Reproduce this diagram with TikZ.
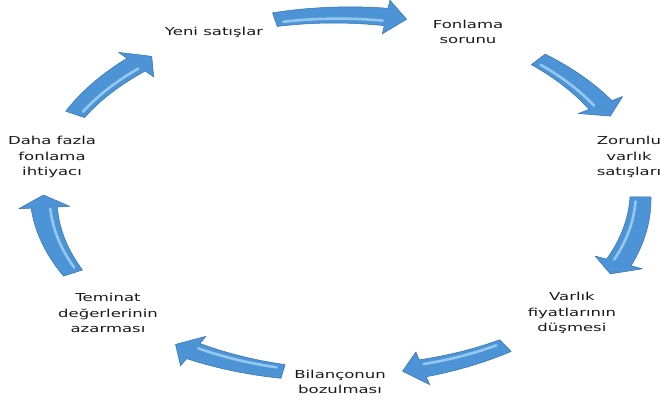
\documentclass[tikz,border=0pt]{standalone}
\usepackage{fontspec}
\newfontfamily\lblfont[FakeStretch=1.5]{DejaVu Sans}
\definecolor{arrfill}{RGB}{76,148,214}
\definecolor{arrline}{RGB}{50,112,178}
\definecolor{arrhi}{RGB}{168,214,242}
\definecolor{lbltext}{RGB}{25,25,25}
\newcommand\cycarrow[2]{%
  \pgfmathsetmacro\ta{#1}%
  \pgfmathsetmacro\tp{#2}%
  \pgfmathsetmacro\tb{#2+4}%
  \pgfmathsetmacro\hs{#1-1.5}%
  \pgfmathsetmacro\he{#2+4.5}%
  \filldraw[arrowbody]
    plot[domain=\ta:\tb,samples=40,variable=\s]
      ({228+(199+hw(\s))*cos(\s)},{205+(180+hw(\s))*sin(\s)})
    -- ({228+(199+17)*cos(\tb)},{205+(180+17)*sin(\tb)})
    -- ({228+199*cos(\tp)},{205+180*sin(\tp)})
    -- ({228+(199-17)*cos(\tb)},{205+(180-17)*sin(\tb)})
    -- plot[domain=\tb:\ta,samples=40,variable=\s]
      ({228+(199-hw(\s))*cos(\s)},{205+(180-hw(\s))*sin(\s)})
    -- cycle;
  \draw[arrowhi]
    plot[domain=\hs:\he,samples=40,variable=\s]
      ({228+(199-0.45*hw(\s))*cos(\s)},{205+(180-0.45*hw(\s))*sin(\s)});
}
\begin{document}
\begin{tikzpicture}[x=1.5pt,y=1pt,
  declare function={hw(\s)=7+1.8*(\s-\ta)/(\tb-\ta);},
  arrowbody/.style={fill=arrfill,draw=arrline,line width=0.5pt,line join=round},
  arrowhi/.style={draw=arrhi,line width=2.6pt,line cap=round,opacity=0.8},
  lbl/.style={align=center,inner sep=0pt,text=lbltext,
    font=\lblfont\fontsize{11}{15.5}\selectfont}]
\useasboundingbox (0,0) rectangle (440,400);
% labels
\node[lbl] (yeni)    at (142.7,368) {Yeni satışlar};
\node[lbl] (fonlama) at (312,368)   {Fonlama\\sorunu};
\node[lbl] (zorunlu) at (419.3,243) {Zorunlu\\varlık\\satışları};
\node[lbl] (varlik)  at (381.3,87)  {Varlık\\fiyatlarının\\düşmesi};
\node[lbl] (bilanco) at (226.7,18)  {Bilançonun\\bozulması};
\node[lbl] (teminat) at (72,87)     {Teminat\\değerlerinin\\azarması};
\node[lbl] (daha)    at (34.7,243)  {Daha fazla\\fonlama\\ihtiyacı};
% cycle arrows
\cycarrow{103}{77.5}
\cycarrow{48.9}{26}
\cycarrow{-0.6}{-26}
\cycarrow{-56.8}{-78.3}
\cycarrow{-101.4}{-123.9}
\cycarrow{205.7}{180}
\cycarrow{153.4}{129.6}
\end{tikzpicture}
\end{document}
